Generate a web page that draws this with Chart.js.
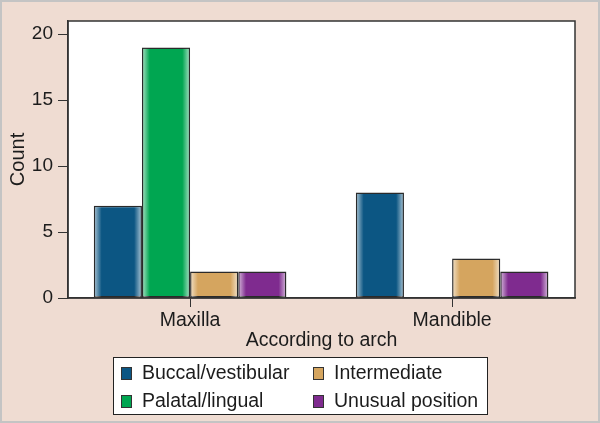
<!DOCTYPE html>
<html>
<head>
<meta charset="utf-8">
<script src="https://cdn.jsdelivr.net/npm/chart.js@4/dist/chart.umd.min.js"></script>
<style>
  html, body { margin: 0; padding: 0; background: #efdcd2; }
  #wrap { width: 600px; height: 423px; }
</style>
</head>
<body>
<div id="wrap"><canvas id="myChart" width="600" height="423"></canvas></div>
<script>
const arches = ['Maxilla', 'Mandible'];
const archPos = [1, 2];
const seriesNames = ['Buccal/vestibular', 'Palatal/lingual', 'Intermediate', 'Unusual position'];
const buccal = [7, 8];
const palatal = [19, null];
const intermediate = [2, 3];
const unusual = [2, 2];
const yTicks = [0, 5, 10, 15, 20];
const colors = ['#0c5683', '#00a651', '#d5a55f', '#7f2b8f'];

const font = 'Liberation Sans, Arial, sans-serif';
const textColor = '#1c1c1c';

// pink page, white plot area, frame around plot and image, legend box
const framePlugin = {
    id: 'frame',
    beforeDraw(chart) {
        const ctx = chart.ctx;
        const a = chart.chartArea;
        ctx.save();
        ctx.fillStyle = '#efdcd2';
        ctx.fillRect(0, 0, chart.width, chart.height);
        ctx.strokeStyle = '#c4c4c4';
        ctx.lineWidth = 2;
        ctx.strokeRect(1, 1, chart.width - 2, chart.height - 2);
        ctx.fillStyle = '#ffffff';
        ctx.fillRect(a.left, a.top, a.right - a.left, a.bottom - a.top);
        ctx.restore();
    },
    afterDatasetsDraw(chart) {
        const ctx = chart.ctx;
        // light edges on each bar
        chart.data.datasets.forEach((ds, i) => {
            const meta = chart.getDatasetMeta(i);
            meta.data.forEach((bar, j) => {
                if (ds.data[j].y == null) return;
                const l = bar.x - bar.width / 2 + 1.5;
                const r = bar.x + bar.width / 2 - 1.5;
                const g = ctx.createLinearGradient(l, 0, r, 0);
                g.addColorStop(0, 'rgba(255,255,255,0.55)');
                g.addColorStop(0.14, 'rgba(255,255,255,0)');
                g.addColorStop(0.86, 'rgba(255,255,255,0)');
                g.addColorStop(1, 'rgba(255,255,255,0.55)');
                ctx.save();
                ctx.fillStyle = g;
                ctx.fillRect(l, bar.y + 1.5, r - l, bar.base - bar.y - 1.5);
                ctx.restore();
            });
        });
    },
    afterDraw(chart) {
        const ctx = chart.ctx;
        const a = chart.chartArea;
        ctx.save();
        ctx.strokeStyle = '#333333';
        ctx.lineWidth = 1.5;
        ctx.strokeRect(a.left, a.top, a.right - a.left, a.bottom - a.top);

        // legend box
        const bx = 113, by = 357, bw = 374, bh = 57;
        ctx.fillStyle = '#ffffff';
        ctx.fillRect(bx, by, bw, bh);
        ctx.strokeStyle = '#222222';
        ctx.lineWidth = 1;
        ctx.strokeRect(bx + 0.5, by + 0.5, bw, bh);
        const cols = [121, 313];
        const rows = [373, 401];
        const order = [0, 2, 1, 3];
        ctx.font = '19.5px ' + font;
        ctx.textBaseline = 'middle';
        chart.data.datasets.forEach((ds, i) => {
            const pos = order.indexOf(i);
            const x = cols[pos % 2];
            const y = rows[Math.floor(pos / 2)];
            ctx.fillStyle = ds.backgroundColor;
            ctx.fillRect(x, y - 6, 11, 13);
            ctx.strokeStyle = '#333333';
            ctx.strokeRect(x + 0.5, y - 5.5, 10, 12);
            ctx.fillStyle = textColor;
            ctx.fillText(ds.label, x + 21, y + 1);
        });
        ctx.restore();
    }
};

const datasets = [buccal, palatal, intermediate, unusual].map((d, i) => ({
    label: seriesNames[i],
    data: d.map((v, j) => ({ x: archPos[j], y: v })),
    backgroundColor: colors[i],
    borderColor: '#2a2a2a',
    borderWidth: 1.5,
    borderSkipped: false,
    barPercentage: 1,
    categoryPercentage: 0.735
}));

const ctx = document.getElementById('myChart');
const myChart = new Chart(ctx, {
    type: 'bar',
    data: { datasets: datasets },
    plugins: [framePlugin],
    options: {
        responsive: false,
        animation: false,
        layout: { padding: { top: 21, right: 25, left: 0, bottom: 71 } },
        plugins: { legend: { display: false }, tooltip: { enabled: false } },
        scales: {
            x: {
                type: 'linear',
                offset: false,
                min: 0.534,
                max: 2.469,
                afterBuildTicks(scale) { scale.ticks = archPos.map(v => ({ value: v })); },
                grid: { display: true, drawOnChartArea: false, offset: false, tickLength: 9, color: '#333333', lineWidth: 1 },
                border: { display: true, color: '#333333', width: 1.5 },
                ticks: {
                    color: textColor, font: { family: font, size: 19.5 }, padding: 2,
                    callback: (v) => arches[archPos.indexOf(v)]
                },
                title: { display: true, text: 'According to arch', color: textColor, font: { family: font, size: 19.5 }, padding: 0 },
                afterFit(scale) { scale.height = 54; }
            },
            y: {
                min: 0,
                max: 21,
                afterBuildTicks(scale) { scale.ticks = yTicks.map(v => ({ value: v })); },
                grid: { display: true, drawOnChartArea: false, tickLength: 10, color: '#333333', lineWidth: 1 },
                border: { display: true, color: '#333333', width: 1.5 },
                ticks: { color: textColor, font: { family: font, size: 19 }, padding: 5 },
                title: { display: true, text: 'Count', color: textColor, font: { family: font, size: 20 }, padding: { top: 6, bottom: 0 } },
                afterFit(scale) { scale.width = 68; }
            }
        }
    }
});
</script>
</body>
</html>
